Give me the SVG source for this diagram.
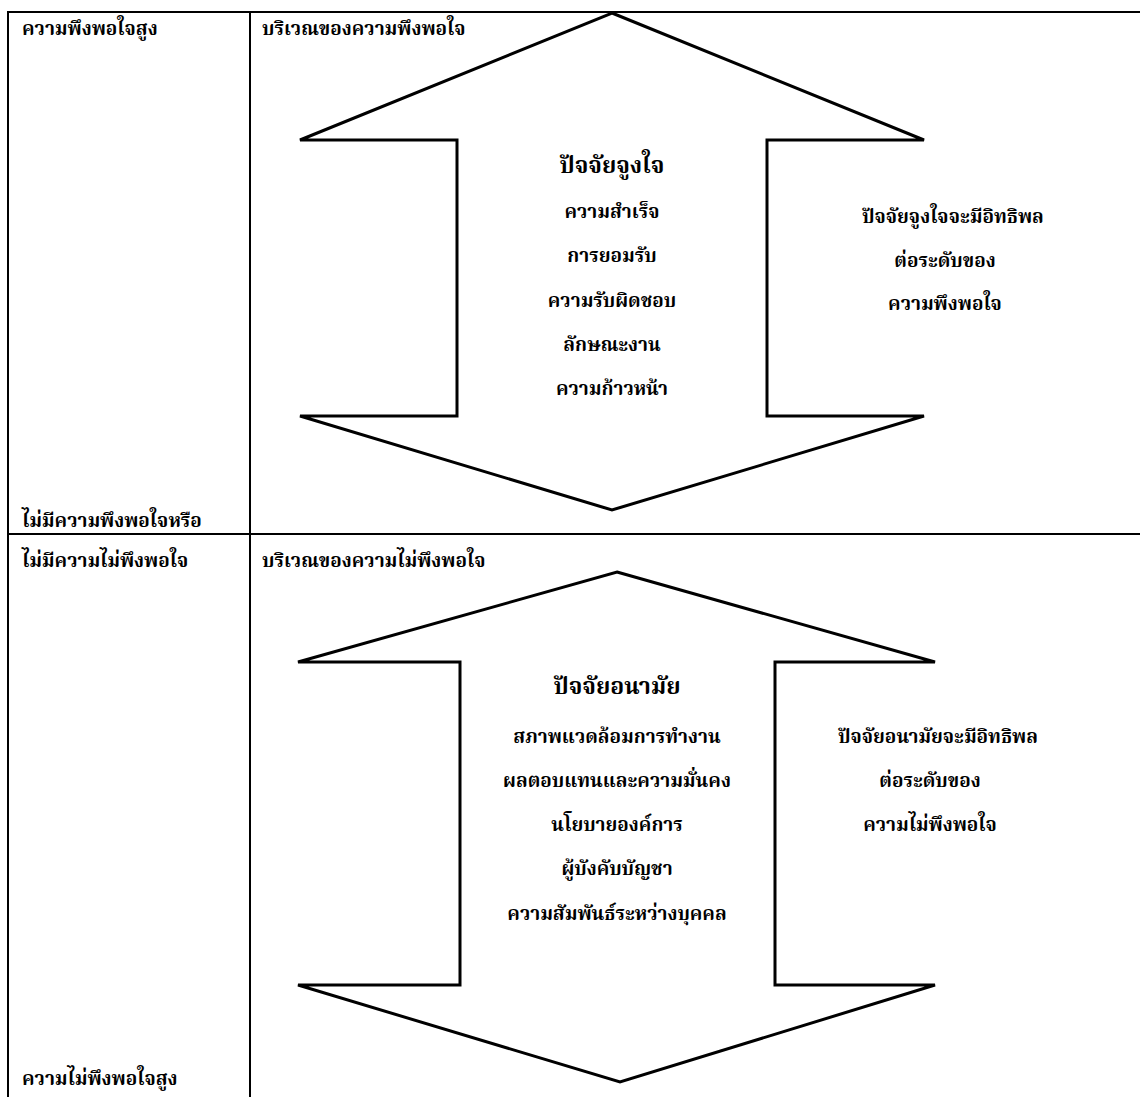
<svg xmlns="http://www.w3.org/2000/svg" width="1140" height="1097" viewBox="0 0 1140 1097">
<style>
.frame{fill:none;stroke:#000;stroke-width:2}
.arrow{fill:#fff;stroke:#000;stroke-width:3;stroke-linejoin:miter}
text{font-family:"Noto Serif Thai","Noto Sans Thai Looped","Loma","Garuda","Norasi","Noto Sans Thai","Noto Sans",sans-serif;font-weight:bold;fill:#000;font-size:19px}
.c{text-anchor:middle}
.h{font-size:23px}
</style>
<rect width="1140" height="1097" fill="#fff"/>
<g id="table">
<rect class="frame" x="8" y="12" width="1140" height="1100"/>
<line class="frame" x1="250" y1="12" x2="250" y2="1097"/>
<line class="frame" x1="8" y1="534" x2="1140" y2="534"/>
</g>
<g id="connectors">
<polygon id="arrow-top" class="arrow" points="612,13 924,140 767,140 767,416 924,416 612,510 300,416 457,416 457,140 300,140"/>
<polygon id="arrow-bottom" class="arrow" points="617,572 935,662 775,662 775,985 935,985 620,1082 298,985 460,985 460,662 298,662"/>
</g>
<g id="labels-left">
<text x="22" y="35">ความพึงพอใจสูง</text>
<text x="22" y="527">ไม่มีความพึงพอใจหรือ</text>
<text x="22" y="567">ไม่มีความไม่พึงพอใจ</text>
<text x="22" y="1085">ความไม่พึงพอใจสูง</text>
</g>
<g id="region-top">
<text x="262" y="35">บริเวณของความพึงพอใจ</text>
</g>
<g id="node-motivators">
<text class="c h" x="612" y="173">ปัจจัยจูงใจ</text>
<text class="c" x="612" y="218">ความสำเร็จ</text>
<text class="c" x="612" y="262">การยอมรับ</text>
<text class="c" x="612" y="307">ความรับผิดชอบ</text>
<text class="c" x="612" y="351">ลักษณะงาน</text>
<text class="c" x="612" y="395">ความก้าวหน้า</text>
</g>
<g id="note-motivators">
<text x="862" y="223">ปัจจัยจูงใจจะมีอิทธิพล</text>
<text class="c" x="945" y="267">ต่อระดับของ</text>
<text class="c" x="945" y="310">ความพึงพอใจ</text>
</g>
<g id="region-bottom">
<text x="262" y="567">บริเวณของความไม่พึงพอใจ</text>
</g>
<g id="node-hygiene">
<text class="c h" x="617" y="694">ปัจจัยอนามัย</text>
<text class="c" x="617" y="743">สภาพแวดล้อมการทำงาน</text>
<text class="c" x="617" y="787">ผลตอบแทนและความมั่นคง</text>
<text class="c" x="617" y="831">นโยบายองค์การ</text>
<text class="c" x="617" y="875">ผู้บังคับบัญชา</text>
<text class="c" x="617" y="920">ความสัมพันธ์ระหว่างบุคคล</text>
</g>
<g id="note-hygiene">
<text x="838" y="743">ปัจจัยอนามัยจะมีอิทธิพล</text>
<text class="c" x="930" y="787">ต่อระดับของ</text>
<text class="c" x="930" y="831">ความไม่พึงพอใจ</text>
</g>
</svg>
